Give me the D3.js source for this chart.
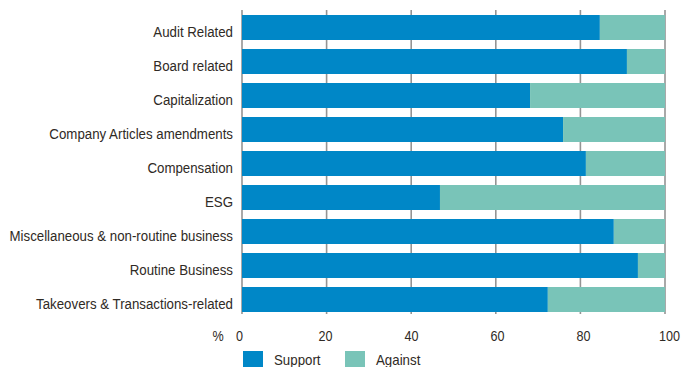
<!DOCTYPE html>
<html>
<head>
<meta charset="utf-8">
<script src="https://cdn.jsdelivr.net/npm/d3@7"></script>
<style>
  body { margin: 0; background: #fff; }
  text { font-family: "Liberation Sans", Arial, sans-serif; fill: #2f2a25; }
</style>
</head>
<body>
<svg id="chart" width="683" height="367"></svg>
<script>
// chart data (share of votes, %)
var categories = ["Audit Related", "Board related", "Capitalization", "Company Articles amendments",
    "Compensation", "ESG", "Miscellaneous & non-routine business", "Routine Business",
    "Takeovers & Transactions-related"];
var support = [84.6, 91.0, 68.1, 75.9, 81.3, 46.8, 87.9, 93.6, 72.3];
var against = support.map(function(d) { return 100 - d; });
var xTicks = [0, 20, 40, 60, 80, 100];
var seriesNames = ["Support", "Against"];
var colors = ["#0087c7", "#79c4b8"];

var svg = d3.select("#chart");

var x = d3.scaleLinear().domain([0, 100]).range([242, 665]);
// tick labels sit a little wider than the grid in the original
var xLabel = d3.scaleLinear().domain([0, 100]).range([239.5, 669.5]);
var y = d3.scaleBand().domain(categories).range([10.5, 316.5])
    .paddingInner(0.265).paddingOuter(0.1325);

// the source font is narrower than Liberation Sans, so squeeze text horizontally
function squeeze(sel, sx, fx, fy) {
    sel.attr("transform", function(d, i) {
        return "translate(" + fx(d, i) + "," + fy(d, i) + ") scale(" + sx + ",1)";
    });
}

// vertical grid lines (drawn behind bars)
svg.append("g").selectAll("line")
    .data(xTicks)
    .enter().append("line")
    .attr("x1", function(d) { return x(d); })
    .attr("x2", function(d) { return x(d); })
    .attr("y1", 10)
    .attr("y2", 314)
    .attr("stroke", "#949494")
    .attr("stroke-width", 1.6);

var rows = categories.map(function(c, i) {
    return { cat: c, support: support[i], against: against[i] };
});

// support bars
svg.append("g").selectAll("rect")
    .data(rows)
    .enter().append("rect")
    .attr("x", x(0))
    .attr("y", function(d) { return y(d.cat); })
    .attr("width", function(d) { return x(d.support) - x(0); })
    .attr("height", y.bandwidth())
    .attr("fill", colors[0]);

// against bars, stacked after support
svg.append("g").selectAll("rect")
    .data(rows)
    .enter().append("rect")
    .attr("x", function(d) { return x(d.support); })
    .attr("y", function(d) { return y(d.cat); })
    .attr("width", function(d) { return x(d.support + d.against) - x(d.support); })
    .attr("height", y.bandwidth())
    .attr("fill", colors[1]);

// category labels
svg.append("g").selectAll("text")
    .data(categories)
    .enter().append("text")
    .attr("text-anchor", "end")
    .style("font-size", "15px")
    .text(function(d) { return d; })
    .call(squeeze, 0.885,
        function() { return 233; },
        function(d) { return y(d) + y.bandwidth() - 3; });

// x tick labels
svg.append("g").selectAll("text")
    .data(xTicks)
    .enter().append("text")
    .attr("text-anchor", "middle")
    .style("font-size", "14px")
    .text(function(d) { return d; })
    .call(squeeze, 0.9,
        function(d) { return xLabel(d); },
        function() { return 341; });

svg.append("text")
    .attr("text-anchor", "middle")
    .style("font-size", "14px")
    .text("%")
    .call(squeeze, 0.9, function() { return 218; }, function() { return 341; });

// legend
var legend = svg.append("g").selectAll("g")
    .data(seriesNames)
    .enter().append("g")
    .attr("transform", function(d, i) { return "translate(" + (243 + i * 102) + ",351)"; });

legend.append("rect")
    .attr("width", 20)
    .attr("height", 20)
    .attr("fill", function(d, i) { return colors[i]; });

legend.append("text")
    .style("font-size", "14px")
    .text(function(d) { return d; })
    .call(squeeze, 0.95, function() { return 31; }, function() { return 14; });
</script>
</body>
</html>
